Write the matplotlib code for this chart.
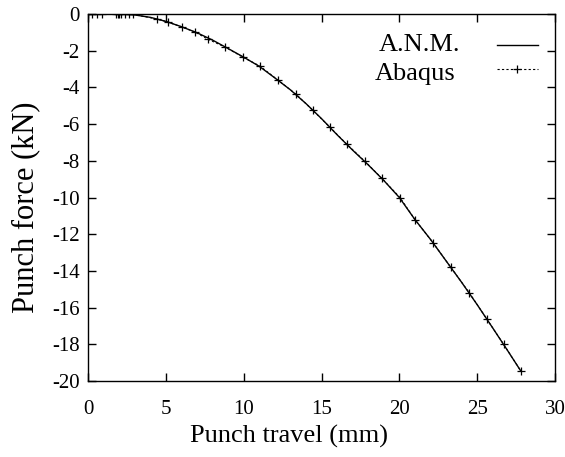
import matplotlib
matplotlib.use("Agg")
import matplotlib.pyplot as plt

plt.rcParams['font.family'] = ['Liberation Serif', 'DejaVu Serif']
plt.rcParams['axes.unicode_minus'] = False

# A.N.M. (solid line)
anm_x = [0, 1, 2, 3, 4, 5, 6, 7, 8, 9, 10, 11, 12, 13, 14, 15, 16, 17, 18, 19, 20,
         21, 22, 23, 24, 25, 26, 27, 27.8]
anm_y = [0, 0, 0, -0.05, -0.18, -0.4, -0.69, -1.02, -1.42, -1.88, -2.35, -2.85, -3.48,
         -4.13, -4.88, -5.7, -6.58, -7.42, -8.22, -9.07, -10.0, -11.2, -12.28, -13.45,
         -14.62, -15.84, -17.11, -18.4, -19.45]

# Abaqus (dashed with + markers)
abq_x = [0.0, 0.26, 0.58, 0.9, 1.8, 1.9, 2.0, 2.1, 2.38, 2.65, 2.9, 4.43, 5.14, 6.04,
         6.87, 7.7, 8.8, 9.95, 11.05, 12.2, 13.36, 14.45, 15.54, 16.63, 17.79, 18.88,
         20.04, 21.0, 22.16, 23.3, 24.5, 25.6, 26.7, 27.8]
abq_y = [0, 0, 0, 0, 0, 0, 0, 0, 0, -0.01, -0.02, -0.27, -0.44, -0.71, -0.98, -1.37,
         -1.8, -2.35, -2.84, -3.6, -4.37, -5.25, -6.17, -7.1, -8.03, -8.96, -10.0,
         -11.2, -12.46, -13.8, -15.2, -16.6, -18.0, -19.45]

series_labels = ['A.N.M.', 'Abaqus']
x_ticks = [0, 5, 10, 15, 20, 25, 30]
y_ticks = [0, -2, -4, -6, -8, -10, -12, -14, -16, -18, -20]

fig = plt.figure(figsize=(5.65, 4.57), dpi=100)
ax = fig.add_axes([0.1558, 0.1663, 0.8265, 0.803])

h1, = ax.plot(anm_x, anm_y, color='black', lw=1.0)
h2, = ax.plot(abq_x, abq_y, color='black', lw=0.8, ls=(0, (2, 2)), marker='+',
              markersize=6, markeredgewidth=0.9)

ax.set_xlim(0, 30)
ax.set_ylim(-20, 0)
ax.set_xticks(x_ticks)
ax.set_yticks(y_ticks)
ax.tick_params(direction='in', top=True, right=True, length=6, width=1,
               labelsize=15)
ax.tick_params(axis='x', pad=14)
ax.tick_params(axis='y', pad=6)
for s in ax.spines.values():
    s.set_linewidth(1.0)

ax.set_xlabel('Punch travel (mm)', fontsize=19)
ax.set_ylabel('Punch force (kN)', fontsize=22)
ax.xaxis.set_label_coords(0.43, -0.12)
ax.yaxis.set_label_coords(-0.103, 0.474)

# legend: sample lines from the library, labels right-aligned to the left of them
leg = ax.legend([h1, h2], ['', ''], loc='upper left', frameon=False, fontsize=17,
                handlelength=1.75, handletextpad=0, labelspacing=0.07,
                borderpad=0, borderaxespad=0,
                bbox_to_anchor=(0.875, 0.937))
ax.text(0.797, 0.916, series_labels[0], transform=ax.transAxes, ha='right',
        va='center', fontsize=19)
ax.text(0.787, 0.836, series_labels[1], transform=ax.transAxes, ha='right',
        va='center', fontsize=19)

fig.savefig('out.png', dpi=100)
